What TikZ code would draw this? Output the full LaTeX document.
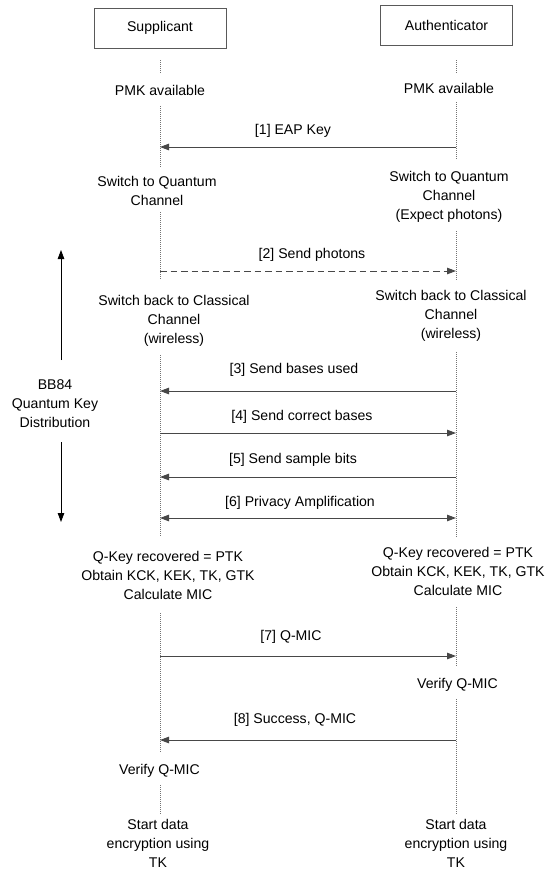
\documentclass[tikz,border=0pt]{standalone}
\usepackage{fontspec}
\setmainfont{Liberation Sans}
\usetikzlibrary{arrows.meta}

\begin{document}
\begin{tikzpicture}[x=1pt, y=-1pt,
  every node/.style={font=\fontsize{14.1}{19}\selectfont, inner sep=0pt, align=center},
  actor/.style={draw=black!65, line width=1pt, minimum width=132pt, minimum height=40pt},
  note/.style={anchor=north},
  lifeline/.style={draw=black!55, line width=0.8pt, dash pattern=on 1pt off 1pt},
  tipshape/.style={-{Triangle[length=9pt,width=6.5pt]}},
  msg/.style={draw=black!72, line width=0.9pt, tipshape},
  msgdash/.style={msg, dash pattern=on 6.5pt off 4pt},
  msgboth/.style={draw=black!72, line width=0.9pt,
    {Triangle[length=9pt,width=6.5pt]}-{Triangle[length=9pt,width=6.5pt]}},
  span/.style={draw=black, line width=0.8pt, tipshape}
]
\useasboundingbox (0,0) rectangle (551,871);

% participants
\node[actor] (sup) at (160,28) {Supplicant};
\node[actor] (auth) at (446.5,25) {Authenticator};

% notes on the supplicant side
\node[note] (sPMK)    at (160,85.4)  {PMK available};
\node[note] (sQuant)  at (157,175.7) {Switch to Quantum\\Channel};
\node[note] (sClass)  at (174,294.7) {Switch back to Classical\\Channel\\(wireless)};
\node[note] (sKey)    at (168,550.7) {Q-Key recovered = PTK\\Obtain KCK, KEK, TK, GTK\\Calculate MIC};
\node[note] (sVerify) at (159.5,763.7) {Verify Q-MIC};
\node[note] (sStart)  at (158,819.5) {Start data\\encryption using\\TK};

% notes on the authenticator side
\node[note] (aPMK)    at (449,83)    {PMK available};
\node[note] (aQuant)  at (449,170.7) {Switch to Quantum\\Channel\\(Expect photons)};
\node[note] (aClass)  at (451,289.7) {Switch back to Classical\\Channel\\(wireless)};
\node[note] (aKey)    at (458,546.7) {Q-Key recovered = PTK\\Obtain KCK, KEK, TK, GTK\\Calculate MIC};
\node[note] (aVerify) at (457.5,677.7) {Verify Q-MIC};
\node[note] (aStart)  at (456,819.5) {Start data\\encryption using\\TK};

% BB84 phase marker
\node[note] (bb84) at (55,379.7) {BB84\\Quantum Key\\Distribution};
\coordinate (bbUpA) at (61,360);
\coordinate (bbUpB) at (61,250);
\coordinate (bbDnA) at (61,442);
\coordinate (bbDnB) at (61,522);
\draw[span] (bbUpA) -- (bbUpB);
\draw[span] (bbDnA) -- (bbDnB);

% lifeline segments, supplicant
\foreach \i/\ya/\yb in {1/60/74, 2/106/167, 3/212/280, 4/355/537, 5/613/753, 6/785/815} {
  \coordinate (sl\i a) at (160,\ya);
  \coordinate (sl\i b) at (160,\yb);
  \draw[lifeline] (sl\i a) -- (sl\i b);
}
% lifeline segments, authenticator
\foreach \i/\ya/\yb in {1/60/73, 2/102/160, 3/231/281, 4/352/537, 5/607/667, 6/699/815} {
  \coordinate (al\i a) at (456,\ya);
  \coordinate (al\i b) at (456,\yb);
  \draw[lifeline] (al\i a) -- (al\i b);
}

% message anchor points on the lifelines
\foreach \k/\y in {1/147, 2/271, 3/391, 4/433, 5/477, 6/518, 7/656, 8/740} {
  \coordinate (s\k) at (160,\y);
  \coordinate (a\k) at (456,\y);
}

% messages
\draw[msg]     (a1) -- (s1);
\draw[msgdash] (s2) -- (a2);
\draw[msg]     (a3) -- (s3);
\draw[msg]     (s4) -- (a4);
\draw[msg]     (a5) -- (s5);
\draw[msgboth] (s6) -- (a6);
\draw[msg]     (s7) -- (a7);
\draw[msg]     (a8) -- (s8);

% message labels
\node[note] (m1) at (293,124) {[1] EAP Key};
\node[note] (m2) at (312,247.7) {[2] Send photons};
\node[note] (m3) at (294,362.7) {[3] Send bases used};
\node[note] (m4) at (302,409.7) {[4] Send correct bases};
\node[note] (m5) at (293,452.7) {[5] Send sample bits};
\node[note] (m6) at (300,495.7) {[6] Privacy Amplification};
\node[note] (m7) at (291,629.7) {[7] Q-MIC};
\node[note] (m8) at (295,712.7) {[8] Success, Q-MIC};
\end{tikzpicture}
\end{document}
